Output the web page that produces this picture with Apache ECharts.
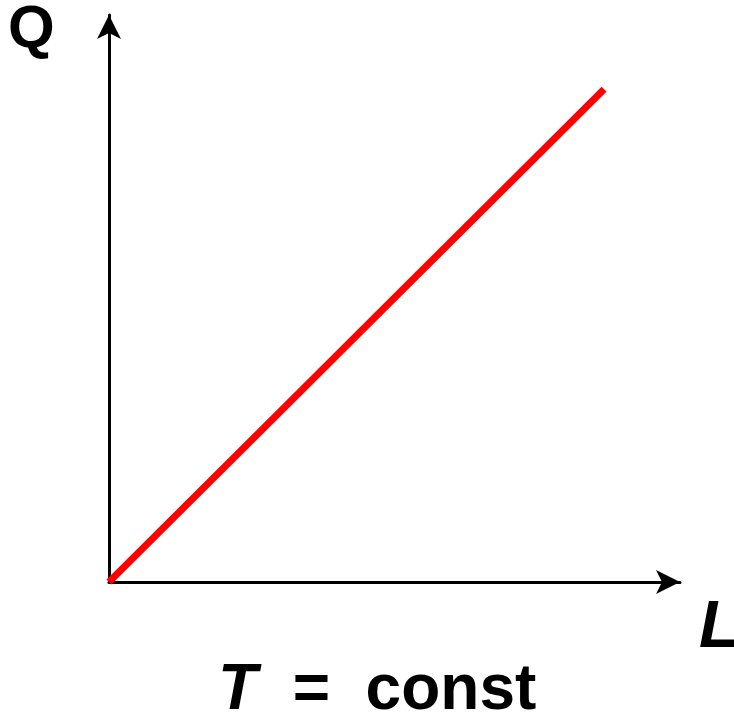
<!DOCTYPE html>
<html>
<head>
<meta charset="utf-8">
<script src="https://cdn.jsdelivr.net/npm/echarts@6/dist/echarts.min.js"></script>
<style>html,body{margin:0;padding:0;background:#fff}#c{width:734px;height:717px}</style>
</head>
<body>
<div id="c"></div>
<script>
// Data: Q vs L at constant T (straight line through origin)
const lValues = [0, 86.7];
const qValues = [0, 86.9];
const yLabel = 'Q';
const xLabel = 'L';
const caption = 'T  =  const';

const seriesData = lValues.map((l, i) => [l, qValues[i]]);

const chart = echarts.init(document.getElementById('c'), null, {renderer: 'canvas'});
const axisCommon = {
  type: 'value', min: 0, max: 100,
  axisLabel: {show: false}, axisTick: {show: false}, splitLine: {show: false},
  axisLine: {show: true, onZero: false, symbol: ['none', 'arrow'], symbolSize: [18, 24],
    lineStyle: {color: '#000', width: 3}}
};
chart.setOption({
  animation: false,
  backgroundColor: '#fff',
  grid: {left: 109, right: 54, top: 15, bottom: 135},
  xAxis: axisCommon,
  yAxis: axisCommon,
  series: [{
    type: 'line', data: seriesData, symbol: 'none',
    lineStyle: {color: '#ff0000', width: 7, cap: 'butt'}
  }],
  graphic: [
    {type: 'text', left: 8, top: 0, style: {text: yLabel, font: 'bold 60px "Liberation Sans", Arial, sans-serif', fill: '#000'}},
    {type: 'text', left: 699, top: 596, style: {text: xLabel, font: 'italic bold 66px "Liberation Sans", Arial, sans-serif', fill: '#000'}},
    {type: 'text', left: 218, top: 659, style: {
      rich: {
        t: {font: 'italic bold 64px "Liberation Sans", Arial, sans-serif', fill: '#000'},
        r: {font: 'bold 64px "Liberation Sans", Arial, sans-serif', fill: '#000'}
      },
      text: '{t|T}{r|  =  const}'
    }}
  ]
});
</script>
</body>
</html>
